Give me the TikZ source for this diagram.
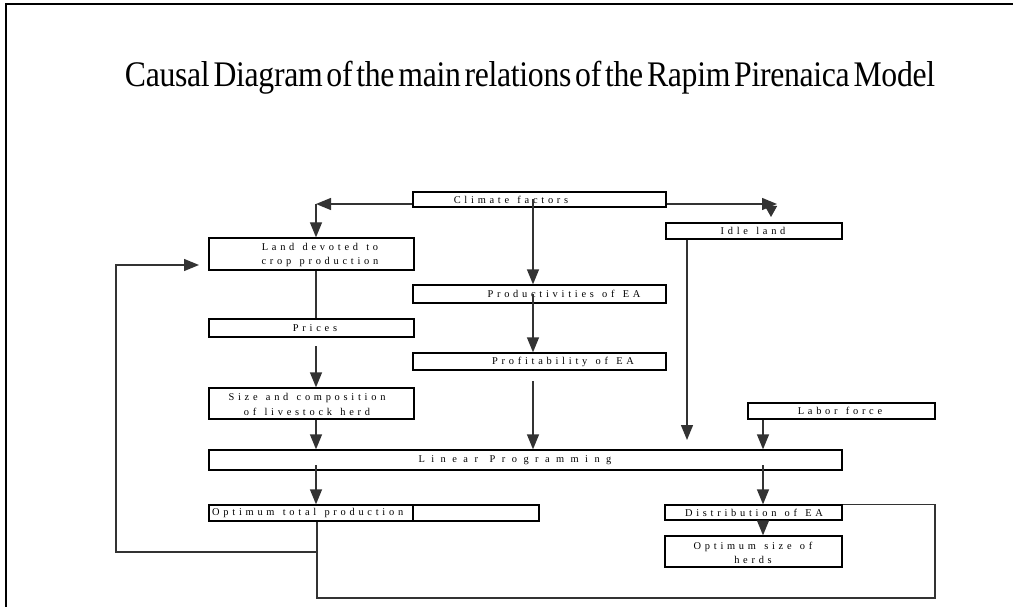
\documentclass[tikz,border=0pt]{standalone}
\usepackage{fontspec}
\setmainfont{Liberation Serif}
\newfontfamily\titlefont[WordSpace=0.5,LetterSpace=-1]{Liberation Serif}
\newfontfamily\boxfont[LetterSpace=36,WordSpace=1.3]{Liberation Serif}
\newfontfamily\widefont[LetterSpace=62,WordSpace=1.3]{Liberation Serif}
\usetikzlibrary{arrows.meta}
\begin{document}
\begin{tikzpicture}[x=1pt,y=-1pt,
	box/.style={draw=black,line width=1.3pt,inner sep=0pt},
	txt/.style={inner sep=0pt,font=\boxfont\fontsize{10.4}{14.5}\selectfont},
	widetxt/.style={inner sep=0pt,font=\widefont\fontsize{10.4}{14.5}\selectfont},
	link/.style={draw=black!80,line width=1.3pt},
	arr/.style={link,-{Triangle[width=12pt,length=15pt]}}]
	\useasboundingbox (0,0) rectangle (1013,607);
	\draw[line width=2pt] (6,607)--(6,4)--(1013,4);
	\node[inner sep=0pt,anchor=base] (title) at (530,87) {\resizebox{810pt}{\height}{\titlefont\fontsize{36}{36}\selectfont Causal Diagram of the main relations of the Rapim Pirenaica Model}};
	\node[box,minimum width=253pt,minimum height=15pt] (climate) at (539.5,199.5) {};
	\node[box,minimum width=205pt,minimum height=32pt] (land) at (311.5,254) {};
	\node[box,minimum width=176pt,minimum height=16pt] (idle) at (754,231) {};
	\node[box,minimum width=253pt,minimum height=18pt] (prod) at (539.5,294) {};
	\node[box,minimum width=205pt,minimum height=18pt] (prices) at (311.5,328) {};
	\node[box,minimum width=253pt,minimum height=17pt] (profit) at (539.5,361.5) {};
	\node[box,minimum width=205pt,minimum height=31pt] (size) at (311.5,403.5) {};
	\node[box,minimum width=187pt,minimum height=16pt] (labor) at (841.5,411) {};
	\node[box,minimum width=633pt,minimum height=20pt] (lp) at (525.5,460) {};
	\node[box,minimum width=330pt,minimum height=16pt] (opttot) at (374,513) {};
	\node[box,minimum width=177pt,minimum height=15pt] (distr) at (753.5,512.5) {};
	\node[box,minimum width=177pt,minimum height=31pt] (herds) at (753.5,551.5) {};
	\coordinate (div) at (413,505);
	\draw[line width=1.3pt] (div |- opttot.north)--(div |- opttot.south);
	\node[txt] (climatet) at (511,199.5) {Climate factors};
	\node[txt,align=center] (landt) at (320,255) {Land devoted to\\crop production};
	\node[txt] (idlet) at (753,231) {Idle land};
	\node[txt] (prodt) at (564,294) {Productivities of EA};
	\node[txt] (pricest) at (315,328) {Prices};
	\node[txt] (profitt) at (563,361.5) {Profitability of EA};
	\node[txt,align=center] (sizet) at (307,404.5) {Size and composition\\of livestock herd};
	\node[txt] (labort) at (840,411) {Labor force};
	\node[widetxt] (lpt) at (515,460) {Linear Programming};
	\node[txt,anchor=west] (opttott) at (212,513) {Optimum total production};
	\node[txt] (distrt) at (754,512.5) {Distribution of EA};
	\node[txt,align=center] (herdst) at (753,553) {Optimum size of\\herds};
	\coordinate (cl) at (316,204);
	\coordinate (cr) at (777,204);
	\coordinate (cd) at (771,217);
	\coordinate (lc) at (316,0);
	\coordinate (mc) at (533,0);
	\coordinate (ic) at (687,0);
	\coordinate (rc) at (763,0);
	\coordinate (pfo) at (533,381);
	\coordinate (pro) at (316,346);
	\coordinate (idi) at (687,440);
	\coordinate (lpo) at (316,465);
	\coordinate (fb) at (317,598);
	\coordinate (fr) at (935,598);
	\coordinate (lb) at (116,552);
	\coordinate (lt) at (199,265);
	\draw[arr] (cl -| climate.west)--(cl);
	\draw[arr] (cl)--(cl |- land.north);
	\draw[arr] (cr -| climate.east)--(cr);
	\draw[link,-{Triangle[width=12pt,length=11pt]}] (cd |- cr)--(cd);
	\draw[arr] (mc |- climate.center)--(mc |- prod.north);
	\draw[arr] (mc |- prod.center)--(mc |- profit.north);
	\draw[arr] (pfo)--(pfo |- lp.north);
	\draw[link] (lc |- land.south)--(lc |- prices.north);
	\draw[arr] (pro)--(pro |- size.north);
	\draw[arr] (lc |- size.south)--(lc |- lp.north);
	\draw[arr] (ic |- idle.south)--(idi);
	\draw[arr] (rc |- labor.south)--(rc |- lp.north);
	\draw[arr] (lpo)--(lpo |- opttot.north);
	\draw[arr] (lpo -| rc)--(rc |- distr.north);
	\draw[arr] (rc |- distr.south)--(rc |- herds.north);
	\draw[link] (fb |- opttot.south)--(fb)--(fr)--(fr |- distr.north)--(distr.north east);
	\draw[arr] (fb |- lb)--(lb)--(lb |- lt)--(lt);
\end{tikzpicture}
\end{document}
